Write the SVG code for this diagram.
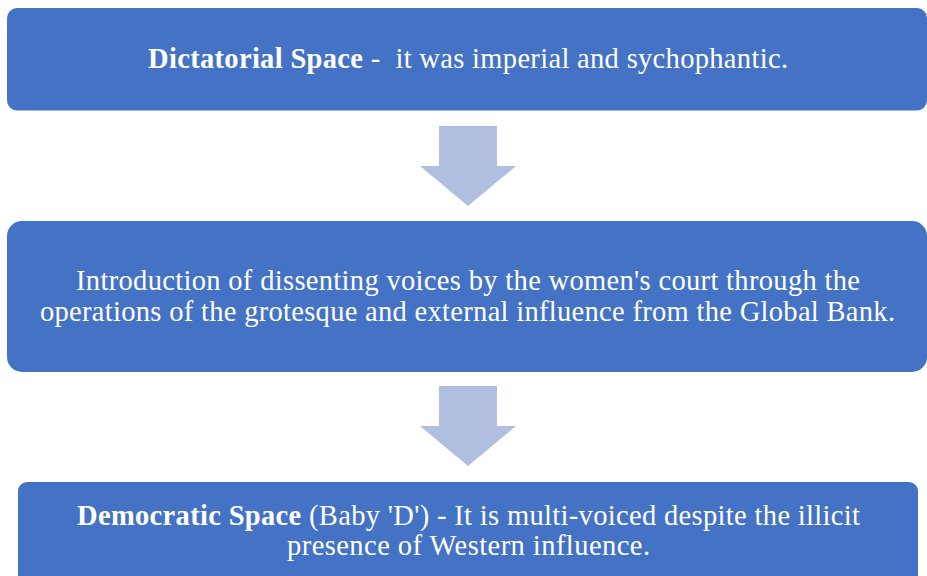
<svg xmlns="http://www.w3.org/2000/svg" width="927" height="576" viewBox="0 0 927 576">
<style>
.box{fill:#4472C4;}
.arrow{fill:#B0BEE0;}
text{font-family:"Liberation Serif","Times New Roman",serif;font-size:28.5px;fill:#FFFFFF;text-anchor:middle;white-space:pre;}
.b{font-weight:bold;}
</style>
<rect width="927" height="576" fill="#FFFFFF"/>
<g id="node1">
<rect class="box" x="7" y="8" width="920" height="102.5" rx="10"/>
<text x="468" y="68" textLength="640" lengthAdjust="spacing" xml:space="preserve"><tspan class="b">Dictatorial Space</tspan> -  it was imperial and sychophantic.</text>
</g>
<g id="node2">
<rect class="box" x="7" y="221" width="920" height="151" rx="15"/>
<text x="468" y="290" textLength="784" lengthAdjust="spacing">Introduction of dissenting voices by the women's court through the</text>
<text x="467.5" y="321" textLength="855" lengthAdjust="spacing">operations of the grotesque and external influence from the Global Bank.</text>
</g>
<g id="node3">
<rect class="box" x="18" y="482" width="900" height="104" rx="9"/>
<text x="468.5" y="525" textLength="783" lengthAdjust="spacing"><tspan class="b">Democratic Space</tspan> (Baby 'D') - It is multi-voiced despite the illicit</text>
<text x="468.5" y="555" textLength="363" lengthAdjust="spacing">presence of Western influence.</text>
</g>
<g id="connectors">
<polygon class="arrow" points="439,126 497,126 497,166 516,166 468,206 420,166 439,166"/>
<polygon class="arrow" points="439,386 497,386 497,426 516,426 468,466 420,426 439,426"/>
</g>
</svg>
